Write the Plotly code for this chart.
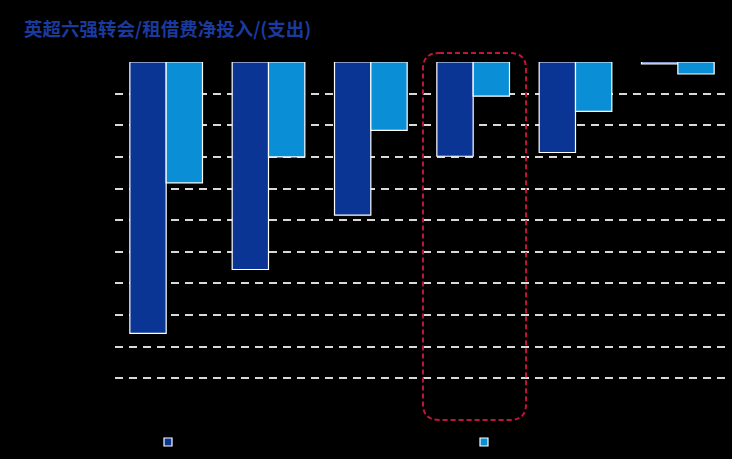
import plotly.graph_objects as go

# big six clubs (labels are drawn in black on black in the original)
clubs = ["曼联", "曼城", "切尔西", "阿森纳", "利物浦", "热刺"]
transfer_net = [-429, -328, -242, -149, -143, -3]
loan_net = [-191, -150, -108, -54, -78, -19]
series_names = ["转会净投入", "租借费净投入"]
y_ticks = [-500, -450, -400, -350, -300, -250, -200, -150, -100, -50]

W, H = 732, 459
ML, MR, MT, MB = 115, 3, 62, 68
DARK = "#0a3594"
LIGHT = "#0a8fd6"

fig = go.Figure()
fig.add_trace(go.Bar(x=clubs, y=transfer_net, name=series_names[0], marker=dict(color=DARK, line=dict(color="white", width=1.2)), showlegend=False))
fig.add_trace(go.Bar(x=clubs, y=loan_net, name=series_names[1], marker=dict(color=LIGHT, line=dict(color="white", width=1.2)), showlegend=False))

# small square legend markers, one legend each so they sit far apart
for nm, c, lg in zip(series_names, [DARK, LIGHT], ["legend", "legend2"]):
    fig.add_trace(go.Scatter(x=[None], y=[None], mode="markers", name=nm, legend=lg,
                             marker=dict(symbol="square", size=8, color=c, line=dict(color="white", width=1.2))))


def px_to_paper(px, py):
    pw = W - ML - MR
    ph = H - MT - MB
    return (px - ML) / pw, 1 - (py - MT) / ph


# highlight box round the 4th group, rounded corners
x0, x1, y0, y1, r = 423, 526, 53, 420, 16
pts = [
    ("M", x0 + r, y0), ("L", x1 - r, y0), ("Q", x1, y0, x1, y0 + r),
    ("L", x1, y1 - r), ("Q", x1, y1, x1 - r, y1), ("L", x0 + r, y1),
    ("Q", x0, y1, x0, y1 - r), ("L", x0, y0 + r), ("Q", x0, y0, x0 + r, y0),
]
path = ""
for p in pts:
    cmd, coords = p[0], p[1:]
    parts = []
    for i in range(0, len(coords), 2):
        a, b = px_to_paper(coords[i], coords[i + 1])
        parts.append(f"{a:.4f},{b:.4f}")
    path += cmd + " ".join(parts)
path += "Z"
fig.add_shape(type="path", path=path, xref="paper", yref="paper",
              line=dict(color="#c0153a", width=2, dash="5px,3px"), layer="above")

leg_style = dict(orientation="h", xref="container", yref="container", yanchor="middle",
                 y=1 - 442 / H, font=dict(color="black", size=12), bgcolor="rgba(0,0,0,0)")

fig.update_layout(
    width=W, height=H,
    margin=dict(l=ML, r=MR, t=MT, b=MB),
    paper_bgcolor="black", plot_bgcolor="black",
    barmode="group", bargap=0.29, bargroupgap=0,
    font=dict(family="Noto Sans CJK SC", color="black", size=12),
    title=dict(text="<b>英超六强转会/租借费净投入/(支出)</b>", x=24 / W, xanchor="left",
               y=1 - 30 / H, yanchor="middle",
               font=dict(family="Noto Sans CJK SC", size=18.5, color="#1a3a9e")),
    legend=dict(x=(170 - 22) / W, **leg_style),
    legend2=dict(x=(486 - 22) / W, **leg_style),
    showlegend=True,
)
fig.update_xaxes(showgrid=False, showline=False, zeroline=False, ticks="",
                 tickfont=dict(color="black"), side="bottom")
fig.update_yaxes(range=[-520, 0], tickvals=y_ticks, showgrid=True, gridcolor="#d9d9d9",
                 gridwidth=1.6, griddash="8px,6px", zeroline=False, showline=False,
                 tickfont=dict(color="black"))

fig.write_html("out.html", config={"displayModeBar": False},
               post_script="document.body.style.margin='0';document.body.style.background='black';")
